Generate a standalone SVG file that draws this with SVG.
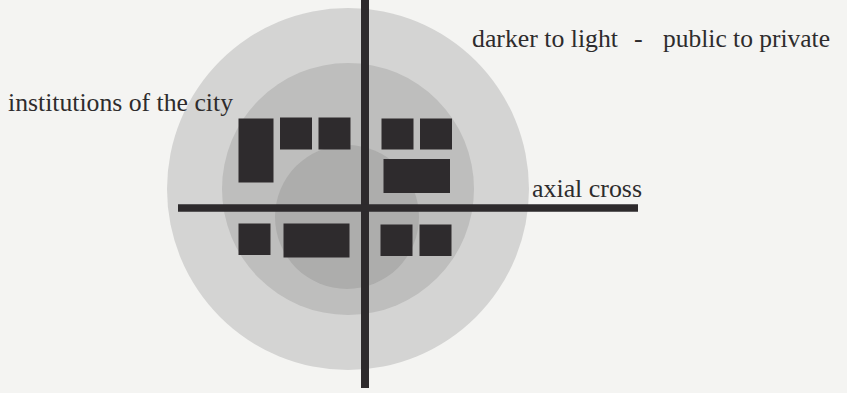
<svg xmlns="http://www.w3.org/2000/svg" width="847" height="393" viewBox="0 0 847 393">
<style>
.lbl{font-family:"Liberation Serif","Times New Roman",serif;font-size:26px;fill:#2e2c2d}
.blk{fill:#2e2b2d}
.axis{stroke:#2d2a2c;fill:none}
</style>
<rect x="0" y="0" width="847" height="393" fill="#f4f4f2"/>
<g id="zones">
<circle id="outer-zone" cx="348" cy="189" r="181" fill="#d4d4d3"/>
<circle id="middle-zone" cx="348" cy="189" r="126" fill="#bebebd"/>
<circle id="inner-zone" cx="347" cy="217" r="72" fill="#adadac"/>
</g>
<g id="institutions">
<rect class="blk" x="238.5" y="118.5" width="35" height="64"/>
<rect class="blk" x="280" y="117.5" width="32" height="32"/>
<rect class="blk" x="318.5" y="117.5" width="32" height="32"/>
<rect class="blk" x="381.5" y="118.5" width="32" height="31"/>
<rect class="blk" x="420" y="118.5" width="32" height="31"/>
<rect class="blk" x="383.5" y="159" width="66.5" height="34"/>
<rect class="blk" x="238.5" y="223.5" width="32" height="31.5"/>
<rect class="blk" x="283.5" y="223.5" width="66" height="34"/>
<rect class="blk" x="380.5" y="224.5" width="32" height="31.5"/>
<rect class="blk" x="419.5" y="224.5" width="32" height="31.5"/>
</g>
<g id="connectors">
<line class="axis" x1="365" y1="0" x2="365" y2="388" stroke-width="8"/>
<line class="axis" x1="178" y1="208" x2="638" y2="208" stroke-width="7.5"/>
</g>
<g id="labels">
<text class="lbl" x="8" y="111" textLength="225" lengthAdjust="spacingAndGlyphs">institutions of the city</text>
<text class="lbl" x="472" y="47" textLength="146" lengthAdjust="spacingAndGlyphs">darker to light</text>
<text class="lbl" x="634" y="47">-</text>
<text class="lbl" x="663" y="47" textLength="167" lengthAdjust="spacingAndGlyphs">public to private</text>
<text class="lbl" x="532" y="197" textLength="110" lengthAdjust="spacingAndGlyphs">axial cross</text>
</g>
</svg>
